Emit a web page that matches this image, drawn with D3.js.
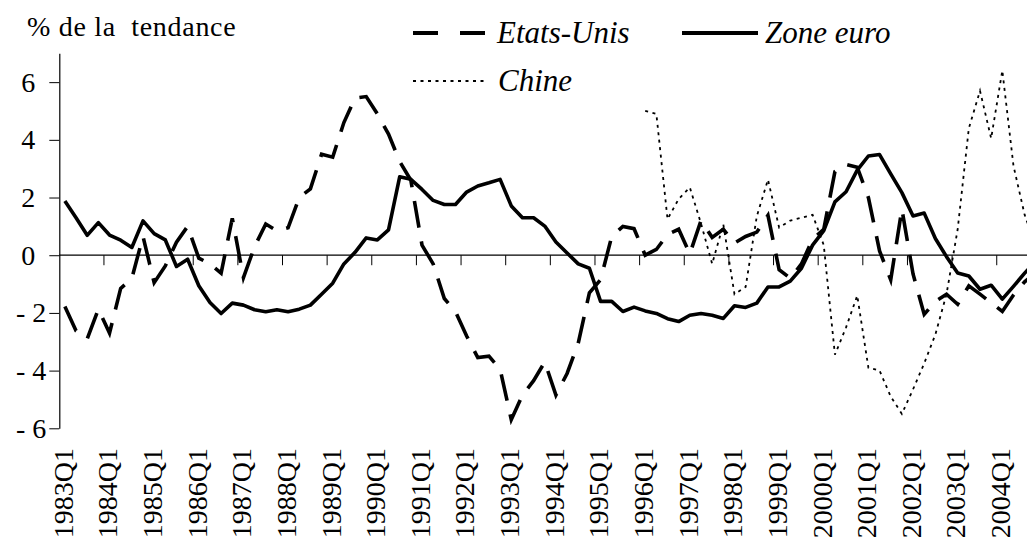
<!DOCTYPE html>
<html>
<head>
<meta charset="utf-8">
<script src="https://cdn.jsdelivr.net/npm/d3@7"></script>
<style>
  body { margin: 0; background: #fff; }
  svg text { font-family: "Liberation Serif", "Times New Roman", Times, "DejaVu Serif", serif; }
</style>
</head>
<body>
<svg id="chart" width="1027" height="544"></svg>
<script>
'use strict';

// data
const quarters = d3.range(1983, 2005).flatMap(y => [1, 2, 3, 4].map(q => y + "Q" + q));
const tickLabels = quarters.filter(q => q.endsWith("Q1"));
const yTicks = [-6, -4, -2, 0, 2, 4, 6];

const etatsUnis = [
	-1.78, -2.62, -2.9, -1.87, -2.7, -1.15, -0.8, 0.65, -0.95, -0.37,
	0.45, 1.0, -0.1, -0.3, -0.62, 1.28, -0.78, 0.3, 1.08, 0.85,
	0.95, 2.0, 2.3, 3.5, 3.4, 4.6, 5.45, 5.5, 4.9, 4.2,
	3.25, 2.6, 0.35, -0.3, -1.5, -1.95, -2.8, -3.55, -3.5, -3.95,
	-5.7, -4.85, -4.35, -3.7, -4.85, -4.1, -3.05, -1.3, -0.85, 0.65,
	1.0, 0.92, 0.0, 0.2, 0.72, 0.9, 0.05, 1.2, 0.62, 0.9,
	0.42, 0.65, 0.8, 1.38, -0.5, -0.8, -0.3, 0.55, 0.9, 2.9,
	3.15, 3.05, 2.0, 0.15, -0.85, 1.6, -0.65, -2.05, -1.6, -1.35,
	-1.7, -1.06, -1.35, -1.65, -1.95, -1.38, -0.92, -0.6
];

const zoneEuro = [
	1.88, 1.3, 0.69, 1.13, 0.7, 0.52, 0.27, 1.19, 0.75, 0.53,
	-0.39, -0.14, -1.06, -1.64, -2.02, -1.66, -1.73, -1.89, -1.96, -1.89,
	-1.96, -1.87, -1.73, -1.35, -0.97, -0.3, 0.1, 0.6, 0.53, 0.88,
	2.72, 2.63, 2.28, 1.9, 1.76, 1.76, 2.19, 2.4, 2.51, 2.63,
	1.71, 1.3, 1.3, 1.01, 0.46, 0.08, -0.3, -0.45, -1.6, -1.6,
	-1.95, -1.8, -1.93, -2.02, -2.2, -2.3, -2.08, -2.02, -2.08, -2.19,
	-1.75, -1.81, -1.66, -1.1, -1.1, -0.9, -0.45, 0.35, 0.85, 1.85,
	2.2, 2.95, 3.44, 3.49, 2.82, 2.17, 1.36, 1.46, 0.58, -0.05,
	-0.62, -0.72, -1.18, -1.04, -1.52, -1.08, -0.62, -0.2
];

const chineStart = "1996Q1";
const chine = [
	5.0, 4.9, 1.25, 1.95, 2.35, 1.1, -0.3, 1.07, -1.35, -1.1,
	1.35, 2.62, 0.96, 1.2, 1.3, 1.4, 0.35, -3.45, -2.5, -1.4,
	-3.9, -4.0, -4.9, -5.5, -4.65, -3.75, -2.75, -1.35, 0.9, 4.4,
	5.7, 4.05, 6.4, 3.1, 1.4, 0.3
];

// layout
const left = 59.3;
const step = 11.16;
const serif = '"Liberation Serif", "Times New Roman", Times, "DejaVu Serif", serif';

const svg = d3.select("#chart");

const x = d3.scaleBand()
	.domain(quarters)
	.range([left, left + quarters.length * step])
	.padding(0);

const y = d3.scaleLinear()
	.domain([-6, 7])
	.range([428.3, 53.3]);

const cx = q => x(q) + x.bandwidth() / 2;
const y0 = y(0);

// y axis
const yAxis = svg.append("g")
	.attr("transform", `translate(${left},0)`)
	.call(d3.axisLeft(y)
		.tickValues(yTicks)
		.tickSize(10)
		.tickSizeOuter(0)
		.tickPadding(3)
		.tickFormat(d => d < 0 ? "- " + (-d) : String(d)));

yAxis.attr("font-family", serif);
yAxis.select(".domain").attr("stroke", "#000").attr("stroke-width", 1.2);
yAxis.selectAll(".tick line").attr("stroke", "#000").attr("stroke-width", 1);
yAxis.selectAll(".tick text")
	.attr("font-size", 28)
	.attr("fill", "#000")
	.attr("x", d => d < 0 ? -13 : -24)
	.style("white-space", "pre");

// zero line with ticks between categories
svg.append("line")
	.attr("x1", left).attr("x2", 1027)
	.attr("y1", y0).attr("y2", y0)
	.attr("stroke", "#000").attr("stroke-width", 1.2);

svg.append("g")
	.selectAll("line")
	.data(tickLabels.slice(1))
	.join("line")
	.attr("x1", d => x(d)).attr("x2", d => x(d))
	.attr("y1", y0).attr("y2", y0 + 10)
	.attr("stroke", "#000").attr("stroke-width", 1);

svg.append("g")
	.attr("font-family", serif)
	.selectAll("text")
	.data(tickLabels)
	.join("text")
	.attr("transform", d => `translate(${cx(d) - 2},448) rotate(-90)`)
	.attr("text-anchor", "end")
	.attr("dy", "0.35em")
	.attr("font-size", 28)
	.text(d => d);

// series
const line = d3.line()
	.defined(d => d.v != null)
	.x(d => cx(d.q))
	.y(d => y(d.v));

const usData = quarters.map((q, i) => ({q, v: etatsUnis[i]}));
const euData = quarters.map((q, i) => ({q, v: zoneEuro[i]}));
const c0 = quarters.indexOf(chineStart);
const cnData = chine.map((v, i) => ({q: quarters[c0 + i], v}));

svg.append("path")
	.datum(usData)
	.attr("d", line)
	.attr("fill", "none")
	.attr("stroke", "#000")
	.attr("stroke-width", 3.6)
	.attr("stroke-dasharray", "27,14");

svg.append("path")
	.datum(euData)
	.attr("d", line)
	.attr("fill", "none")
	.attr("stroke", "#000")
	.attr("stroke-width", 3.6)
	.attr("stroke-linejoin", "round");

svg.append("path")
	.datum(cnData)
	.attr("d", line)
	.attr("fill", "none")
	.attr("stroke", "#000")
	.attr("stroke-width", 1.8)
	.attr("stroke-dasharray", "3,4.5");

// title
svg.append("text")
	.attr("x", 27)
	.attr("y", 36)
	.attr("font-family", serif)
	.attr("font-size", 28)
	.attr("letter-spacing", 0.7)
	.style("white-space", "pre")
	.text("% de la  tendance");

// legend
const legend = [
	{name: "Etats-Unis", x1: 413, x2: 488, y: 33, tx: 497, ty: 43, w: 4, dash: "25,22"},
	{name: "Zone euro", x1: 682, x2: 758, y: 33, tx: 765, ty: 43, w: 4, dash: null},
	{name: "Chine", x1: 413, x2: 488, y: 81, tx: 498, ty: 91, w: 1.8, dash: "3,4.5"}
];

const lg = svg.append("g")
	.attr("font-family", serif)
	.selectAll("g")
	.data(legend)
	.join("g");

lg.append("line")
	.attr("x1", d => d.x1).attr("x2", d => d.x2)
	.attr("y1", d => d.y).attr("y2", d => d.y)
	.attr("stroke", "#000")
	.attr("stroke-width", d => d.w)
	.attr("stroke-dasharray", d => d.dash);

lg.append("text")
	.attr("x", d => d.tx)
	.attr("y", d => d.ty)
	.attr("font-size", 31)
	.attr("font-style", "italic")
	.text(d => d.name);
</script>
</body>
</html>
